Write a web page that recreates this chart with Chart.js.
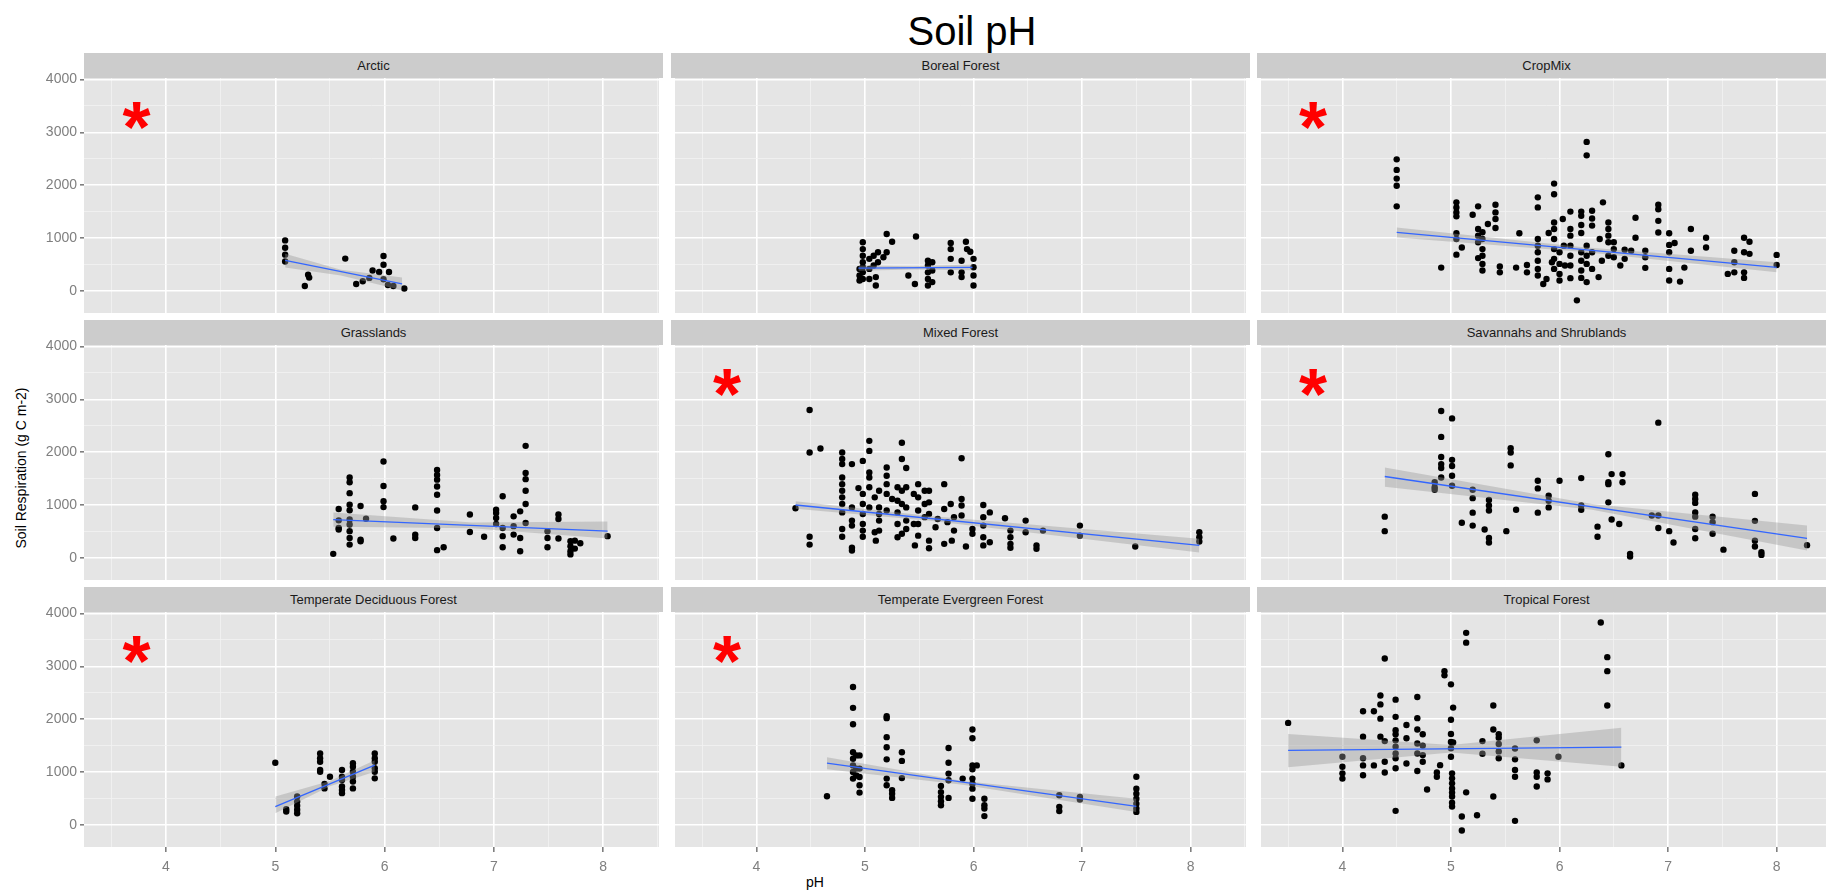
<!DOCTYPE html>
<html>
<head>
<meta charset="utf-8">
<script src="https://cdn.jsdelivr.net/npm/chart.js@4.4.0/dist/chart.umd.min.js"></script>
<style>
    body { margin: 0; width: 1826px; height: 895px; overflow: hidden; background: #fff; position: relative; font-family: "Liberation Sans", Arial, sans-serif; }
    .strip { position: absolute; background: #cccccc; color: #1a1a1a; font-size: 13px; text-align: center; line-height: 25px; height: 25px; }
    .box { position: absolute; }
    #title { position: absolute; left: 0; width: 1944px; top: 9px; text-align: center; font-size: 40px; color: #000; }
    #ylab { position: absolute; left: 21px; top: 468px; transform: translate(-50%, -50%) rotate(-90deg); font-size: 14px; white-space: nowrap; color: #000; }
    #xlab { position: absolute; left: 815px; top: 874px; transform: translateX(-50%); font-size: 14px; color: #000; }
</style>
</head>
<body>
<div id="title">Soil pH</div>
<div id="ylab">Soil Respiration (g C m-2)</div>
<div id="xlab">pH</div>
<script>
// axis ticks (major + minor gridlines)
var xTicks = [3.5, 4, 4.5, 5, 5.5, 6, 6.5, 7, 7.5, 8, 8.5];
var yTicks = [0, 500, 1000, 1500, 2000, 2500, 3000, 3500, 4000];
var xMin = 3.25, xMax = 8.51, yMin = -420, yMax = 4030;

var panelTitles = ["Arctic", "Boreal Forest", "CropMix", "Grasslands", "Mixed Forest",
    "Savannahs and Shrublands", "Temperate Deciduous Forest", "Temperate Evergreen Forest", "Tropical Forest"];
var significant = [true, false, true, false, true, true, true, true, false];

var arcticPts = [[5.09,955],[5.09,815],[5.09,685],[5.09,555],[5.27,90],[5.3,305],[5.31,250],[5.64,610],[5.74,130],
    [5.8,180],[5.86,245],[5.89,385],[5.95,355],[5.99,660],[5.99,495],[5.99,220],[6.04,355],[6.03,110],[6.08,90],[6.18,45]];
var arcticFit = [[5.09,575],[6.16,130]];
var arcticBand = [[5.09,700,440],[5.6,400,290],[6.16,250,10]];

var borealPts = [[4.98,920],[4.98,790],[4.98,665],[4.98,540],[4.98,445],[4.98,350],[4.98,225],[4.95,415],[4.95,290],[4.95,195],
    [5.04,605],[5.04,415],[5.04,225],[5.08,665],[5.08,480],[5.1,100],[5.1,260],[5.12,730],[5.12,540],[5.17,635],[5.2,730],
    [5.2,1075],[5.25,930],[5.4,290],[5.46,130],[5.47,1030],[5.58,570],[5.58,480],[5.58,350],[5.58,225],[5.58,100],[5.62,540],
    [5.62,385],[5.62,165],[5.79,905],[5.79,790],[5.79,605],[5.79,350],[5.89,570],[5.89,350],[5.89,260],[5.93,930],[5.94,790],
    [5.97,740],[6.0,605],[6.0,445],[6.0,290],[6.0,100]];
var borealFit = [[4.94,430],[5.99,445]];
var borealBand = [[4.94,480,380],[5.45,465,405],[5.99,500,390]];

var cropPts = [[4.5,2490],[4.5,2290],[4.5,2125],[4.5,1990],[4.5,1600],[4.91,440],[5.05,1675],[5.05,1580],[5.05,1485],[5.05,1410],
    [5.05,1090],[5.05,980],[5.05,685],[5.1,820],[5.2,1440],[5.25,1600],[5.25,1170],[5.25,1045],[5.25,920],[5.25,620],[5.29,1110],
    [5.29,980],[5.29,790],[5.29,665],[5.29,510],[5.29,385],[5.34,1265],[5.41,1630],[5.41,1485],[5.41,1360],[5.41,1190],[5.45,460],
    [5.45,350],[5.6,440],[5.63,1090],[5.7,490],[5.7,350],[5.8,1770],[5.8,1580],[5.8,980],[5.8,855],[5.8,730],[5.8,570],[5.8,415],
    [5.8,290],[5.85,130],[5.88,225],[5.9,1095],[5.93,540],[5.95,2030],[5.95,1830],[5.95,1295],[5.95,1170],[5.95,980],[5.95,790],
    [5.95,605],[5.95,415],[6.0,730],[6.0,510],[6.0,320],[6.0,195],[6.03,1360],[6.04,855],[6.05,480],[6.1,1500],[6.1,1170],
    [6.1,1045],[6.1,855],[6.1,665],[6.1,480],[6.1,240],[6.16,-180],[6.2,1500],[6.2,1420],[6.2,1245],[6.2,1095],[6.2,730],[6.2,570],
    [6.2,385],[6.2,245],[6.25,2820],[6.25,2565],[6.25,855],[6.25,665],[6.25,510],[6.25,165],[6.3,1515],[6.3,1370],[6.3,1235],
    [6.3,730],[6.3,415],[6.36,260],[6.37,980],[6.39,570],[6.4,1675],[6.45,1295],[6.45,1170],[6.45,1045],[6.45,920],[6.45,665],
    [6.5,920],[6.5,790],[6.5,635],[6.56,480],[6.6,780],[6.6,605],[6.66,760],[6.7,1385],[6.7,1005],[6.79,760],[6.79,635],[6.79,435],
    [6.91,1630],[6.91,1545],[6.91,1325],[6.91,1105],[7.01,1090],[7.01,870],[7.01,730],[7.01,415],[7.01,195],[7.06,905],[7.11,175],
    [7.15,440],[7.21,1170],[7.21,760],[7.35,1005],[7.35,820],[7.55,320],[7.61,760],[7.61,540],[7.61,350],[7.7,1005],[7.7,730],
    [7.7,350],[7.7,245],[7.75,930],[7.75,700],[8.0,680],[8.0,490]];
var cropFit = [[4.5,1105],[8.0,445]];
var cropBand = [[4.5,1200,1010],[6.2,830,740],[8.0,540,350]];

var grassPts = [[5.53,75],[5.58,925],[5.58,710],[5.58,565],[5.58,535],[5.68,1520],[5.68,1430],[5.68,1225],[5.68,1005],[5.68,900],
    [5.68,725],[5.68,630],[5.68,505],[5.68,375],[5.68,250],[5.78,980],[5.78,345],[5.78,315],[5.83,740],[5.99,1825],[5.99,1360],
    [5.99,1070],[5.99,960],[6.08,365],[6.28,955],[6.28,440],[6.28,375],[6.48,1665],[6.48,1570],[6.48,1480],[6.48,1350],[6.48,1195],
    [6.48,895],[6.48,565],[6.48,145],[6.54,200],[6.78,820],[6.78,490],[6.91,400],[7.02,910],[7.02,850],[7.02,755],[7.02,640],
    [7.08,1165],[7.08,565],[7.08,410],[7.08,200],[7.18,785],[7.18,600],[7.18,440],[7.24,880],[7.24,375],[7.24,125],[7.29,2120],
    [7.29,1605],[7.29,1490],[7.29,1270],[7.29,1020],[7.29,660],[7.49,505],[7.49,375],[7.49,200],[7.59,820],[7.59,735],[7.59,365],
    [7.7,315],[7.7,220],[7.7,125],[7.7,65],[7.74,325],[7.74,175],[7.79,275],[8.04,410]];
var grassFit = [[5.53,725],[8.04,505]];
var grassBand = [[5.53,860,590],[6.8,670,560],[8.04,690,365]];

var mixedPts = [[4.36,940],[4.49,2800],[4.49,1995],[4.59,2070],[4.49,400],[4.49,250],[4.79,1995],[4.79,1870],[4.79,1775],[4.79,1520],
    [4.79,1395],[4.79,1270],[4.79,1145],[4.79,1020],[4.79,860],[4.79,545],[4.79,400],[4.88,1775],[4.88,955],[4.88,705],[4.88,610],
    [4.88,190],[4.88,140],[4.94,1320],[4.98,1835],[4.98,1210],[4.98,1020],[4.98,830],[4.98,640],[4.98,515],[4.98,400],[5.04,2215],
    [5.04,2025],[5.04,1615],[5.04,1520],[5.04,1335],[5.04,955],[5.09,1145],[5.09,485],[5.1,325],[5.13,1270],[5.13,955],[5.13,830],
    [5.13,705],[5.13,515],[5.2,1710],[5.2,1555],[5.2,1395],[5.2,1210],[5.2,895],[5.25,1115],[5.3,1335],[5.3,1080],[5.3,860],
    [5.3,640],[5.3,390],[5.34,2180],[5.34,1870],[5.34,1270],[5.34,1020],[5.34,455],[5.38,1700],[5.38,1335],[5.38,955],[5.38,705],
    [5.38,545],[5.45,1210],[5.45,640],[5.46,235],[5.49,1395],[5.49,1145],[5.49,895],[5.49,640],[5.49,420],[5.55,1270],[5.55,1020],
    [5.55,770],[5.59,1270],[5.59,1050],[5.59,830],[5.59,325],[5.59,180],[5.65,580],[5.67,735],[5.73,1395],[5.73,925],[5.73,265],
    [5.76,675],[5.79,1020],[5.8,325],[5.82,770],[5.82,515],[5.89,1885],[5.89,1115],[5.89,990],[5.89,800],[5.93,215],[5.99,545],
    [5.99,455],[6.09,1000],[6.09,770],[6.09,610],[6.09,390],[6.09,235],[6.15,860],[6.15,295],[6.29,750],[6.34,515],[6.34,390],
    [6.34,265],[6.34,190],[6.48,705],[6.48,485],[6.58,235],[6.58,170],[6.64,515],[6.98,610],[6.98,420],[7.49,215],[8.08,485],
    [8.08,390],[8.08,310]];
var mixedFit = [[4.36,1000],[8.08,235]];
var mixedBand = [[4.36,1070,930],[5.6,790,700],[8.08,360,100]];

var savPts = [[4.39,780],[4.39,505],[4.85,1430],[4.85,1335],[4.85,1290],[4.91,2780],[4.91,2290],[4.91,1910],[4.91,1775],[4.91,1700],
    [4.91,1520],[5.01,2640],[5.01,1855],[5.01,1740],[5.01,1555],[5.01,1365],[5.1,665],[5.2,1290],[5.2,1130],[5.2,855],[5.2,610],
    [5.31,535],[5.35,1095],[5.35,990],[5.35,895],[5.35,375],[5.35,290],[5.51,505],[5.55,2075],[5.55,1995],[5.55,1750],[5.6,910],
    [5.8,1460],[5.8,1315],[5.8,855],[5.9,1175],[5.9,1080],[5.9,955],[6.0,1460],[6.2,1510],[6.2,990],[6.2,910],[6.35,590],[6.35,400],
    [6.45,1960],[6.45,1430],[6.45,1395],[6.45,1050],[6.48,1585],[6.48,725],[6.55,640],[6.58,1585],[6.58,1430],[6.65,75],[6.65,25],
    [6.85,800],[6.91,2560],[6.91,800],[6.91,565],[7.01,505],[7.05,290],[7.25,1195],[7.25,1115],[7.25,1040],[7.25,860],[7.25,780],
    [7.25,545],[7.25,370],[7.41,780],[7.41,675],[7.41,455],[7.51,155],[7.8,1210],[7.8,700],[7.8,325],[7.8,215],[7.86,105],[7.86,55],
    [8.28,240]];
var savFit = [[4.39,1540],[8.28,370]];
var savBand = [[4.39,1710,1345],[6.3,1020,910],[8.28,610,140]];

var decidPts = [[5.0,1175],[5.1,295],[5.1,250],[5.2,535],[5.2,440],[5.2,360],[5.2,285],[5.2,220],[5.41,1350],[5.41,1260],[5.41,1195],
    [5.41,1040],[5.41,1005],[5.45,775],[5.45,690],[5.5,910],[5.61,1040],[5.61,910],[5.61,850],[5.61,725],[5.61,660],[5.61,600],
    [5.71,1165],[5.71,1100],[5.71,1005],[5.71,910],[5.71,820],[5.71,690],[5.91,1350],[5.91,1260],[5.91,1195],[5.91,1070],
    [5.91,1005],[5.91,880]];
var decidFit = [[5.0,345],[5.91,1130]];
var decidBand = [[5.0,535,220],[5.5,830,730],[5.91,1225,1005]];

var evergPts = [[4.65,540],[4.89,2610],[4.89,2215],[4.89,1905],[4.89,1375],[4.89,1250],[4.89,1125],[4.89,1000],[4.89,875],[4.92,1315],
    [4.92,1065],[4.92,935],[4.95,1315],[4.95,1065],[4.95,905],[4.95,750],[4.95,610],[5.2,2055],[5.2,2020],[5.2,1660],[5.2,1470],
    [5.2,1240],[5.2,875],[5.2,750],[5.25,655],[5.25,590],[5.25,510],[5.34,1375],[5.34,1210],[5.34,885],[5.7,735],[5.7,620],[5.7,530],
    [5.7,445],[5.7,370],[5.77,1455],[5.77,1175],[5.77,970],[5.77,845],[5.77,510],[5.9,875],[5.99,1805],[5.99,1640],[5.99,1125],
    [5.99,1050],[5.99,875],[5.99,780],[5.99,685],[5.99,495],[6.03,1125],[6.1,495],[6.1,370],[6.1,310],[6.1,165],[6.79,560],
    [6.79,340],[6.79,260],[6.98,530],[6.98,480],[7.5,910],[7.5,685],[7.5,590],[7.5,495],[7.5,400],[7.5,310],[7.5,245]];
var evergFit = [[4.65,1170],[7.5,350]];
var evergBand = [[4.65,1280,1050],[5.9,830,760],[7.5,495,245]];

var tropPts = [[3.5,1930],[4.0,1290],[4.0,1100],[4.0,975],[4.0,875],[4.19,2150],[4.19,1670],[4.19,1260],[4.19,1125],[4.19,940],
    [4.29,2150],[4.29,1125],[4.35,2450],[4.35,2280],[4.35,2010],[4.35,1670],[4.39,3150],[4.39,1585],[4.39,1195],[4.39,990],
    [4.49,2370],[4.49,2045],[4.49,1790],[4.49,1715],[4.49,1600],[4.49,1480],[4.49,1350],[4.49,1260],[4.49,1070],[4.49,265],
    [4.59,1890],[4.59,1640],[4.59,1160],[4.69,2420],[4.69,2020],[4.69,1805],[4.69,1540],[4.69,1350],[4.69,1020],[4.74,1715],
    [4.74,1500],[4.74,1320],[4.74,1195],[4.78,670],[4.87,990],[4.87,910],[4.9,1130],[4.94,2910],[4.94,2830],[5.0,2660],[5.0,1990],
    [5.0,1720],[5.0,1570],[5.0,1450],[5.0,1290],[5.02,2220],[5.02,1560],[5.01,975],[5.01,880],[5.01,785],[5.01,690],[5.01,610],
    [5.01,535],[5.01,420],[5.01,345],[5.1,157],[5.1,-107],[5.14,3635],[5.14,3450],[5.14,615],[5.24,180],[5.29,1585],[5.29,1345],
    [5.39,2260],[5.39,1805],[5.39,535],[5.44,1715],[5.44,1650],[5.44,1530],[5.44,1390],[5.44,1260],[5.59,1445],[5.59,1240],
    [5.59,1040],[5.59,910],[5.59,75],[5.79,1600],[5.79,990],[5.79,910],[5.79,725],[5.89,975],[5.89,860],[5.99,1290],[6.38,3830],
    [6.44,3175],[6.44,2910],[6.44,2260],[6.57,1125]];
var tropFit = [[3.5,1410],[6.57,1470]];
var tropBand = [[3.5,1720,1090],[5.0,1510,1370],[6.57,1840,1100]];

var panelPts = [arcticPts, borealPts, cropPts, grassPts, mixedPts, savPts, decidPts, evergPts, tropPts];
var panelFits = [arcticFit, borealFit, cropFit, grassFit, mixedFit, savFit, decidFit, evergFit, tropFit];
var panelBands = [arcticBand, borealBand, cropBand, grassBand, mixedBand, savBand, decidBand, evergBand, tropBand];

// layout of the 3x3 facet grid
var colLeft = [84, 671, 1257];
var rowTop = [78, 345, 612];
var plotW = 579, plotH = 235;
var yAxisW = 54, xAxisH = 32, pad = 10;

function isMajorX(v) { return Math.abs(v - Math.round(v)) < 1e-6; }
function isMajorY(v) { return v % 1000 === 0; }

var panelBg = {
    id: "panelBg",
    beforeDraw: function (chart) {
        var a = chart.chartArea, ctx = chart.ctx;
        ctx.save();
        ctx.fillStyle = "#e5e5e5";
        ctx.fillRect(a.left, a.top, a.right - a.left, a.bottom - a.top);
        ctx.restore();
    }
};

var starMark = {
    id: "starMark",
    afterDraw: function (chart, args, opts) {
        if (!opts.show) return;
        var ctx = chart.ctx;
        var x = chart.scales.x.getPixelForValue(3.73);
        var y = chart.scales.y.getPixelForValue(3300);
        ctx.save();
        ctx.fillStyle = "#ff0000";
        ctx.font = "bold 72px 'Liberation Sans', Arial, sans-serif";
        ctx.textAlign = "center";
        ctx.textBaseline = "middle";
        ctx.fillText("*", x, y + 16);
        ctx.restore();
    }
};

function makePanel(i) {
    var col = i % 3, row = Math.floor(i / 3);
    var showY = col === 0, showX = row === 2;

    var strip = document.createElement("div");
    strip.className = "strip";
    strip.style.left = colLeft[col] + "px";
    strip.style.top = (rowTop[row] - 25) + "px";
    strip.style.width = plotW + "px";
    strip.textContent = panelTitles[i];
    document.body.appendChild(strip);

    var box = document.createElement("div");
    box.className = "box";
    var w = plotW + (showY ? yAxisW : 0);
    var h = plotH + pad + (showX ? xAxisH : pad);
    box.style.left = (colLeft[col] - (showY ? yAxisW : 0)) + "px";
    box.style.top = (rowTop[row] - pad) + "px";
    box.style.width = w + "px";
    box.style.height = h + "px";
    var canvas = document.createElement("canvas");
    box.appendChild(canvas);
    document.body.appendChild(box);

    var pts = panelPts[i].map(function (p) { return {x: p[0], y: p[1]}; });
    var fit = panelFits[i].map(function (p) { return {x: p[0], y: p[1]}; });
    var hi = panelBands[i].map(function (p) { return {x: p[0], y: p[1]}; });
    var lo = panelBands[i].map(function (p) { return {x: p[0], y: p[2]}; });

    new Chart(canvas, {
        type: "scatter",
        data: {
            datasets: [
                {data: pts, backgroundColor: "#000", borderWidth: 0, pointRadius: 3.2, order: 4},
                {type: "line", data: hi, borderWidth: 0, pointRadius: 0, fill: false, order: 3},
                {type: "line", data: lo, borderWidth: 0, pointRadius: 0, fill: "-1",
                    backgroundColor: "rgba(153,153,153,0.4)", order: 2},
                {type: "line", data: fit, borderColor: "#3366ff", borderWidth: 1.3, pointRadius: 0, fill: false, order: 1}
            ]
        },
        options: {
            responsive: true,
            maintainAspectRatio: false,
            animation: false,
            events: [],
            layout: {padding: {top: pad, bottom: showX ? 0 : pad, left: 0, right: 0}},
            plugins: {legend: {display: false}, tooltip: {enabled: false}, starMark: {show: significant[i]}},
            scales: {
                x: {
                    type: "linear", min: xMin, max: xMax,
                    afterBuildTicks: function (s) { s.ticks = xTicks.map(function (v) { return {value: v}; }); },
                    afterFit: function (s) { s.height = showX ? xAxisH : 0; s.paddingLeft = 0; s.paddingRight = 0; },
                    border: {display: false},
                    grid: {
                        color: function (c) { return isMajorX(c.tick.value) ? "#ffffff" : "#f2f2f2"; },
                        lineWidth: function (c) { return isMajorX(c.tick.value) ? 1.6 : 0.8; },
                        drawTicks: showX, tickLength: 5,
                        tickColor: function (c) { return isMajorX(c.tick.value) ? "#7f7f7f" : "rgba(0,0,0,0)"; }
                    },
                    ticks: {
                        display: showX, autoSkip: false, maxRotation: 0, padding: 7, color: "#7f7f7f",
                        font: {size: 14, family: "'Liberation Sans', Arial, sans-serif"},
                        callback: function (v) { return isMajorX(v) ? String(v) : ""; }
                    }
                },
                y: {
                    type: "linear", min: yMin, max: yMax,
                    afterBuildTicks: function (s) { s.ticks = yTicks.map(function (v) { return {value: v}; }); },
                    afterFit: function (s) { s.width = showY ? yAxisW : 0; s.paddingTop = 0; s.paddingBottom = 0; },
                    border: {display: false},
                    grid: {
                        color: function (c) { return isMajorY(c.tick.value) ? "#ffffff" : "#f2f2f2"; },
                        lineWidth: function (c) { return isMajorY(c.tick.value) ? 1.6 : 0.8; },
                        drawTicks: showY, tickLength: 4,
                        tickColor: function (c) { return isMajorY(c.tick.value) ? "#7f7f7f" : "rgba(0,0,0,0)"; }
                    },
                    ticks: {
                        display: showY, autoSkip: false, padding: 3, color: "#7f7f7f",
                        font: {size: 14, family: "'Liberation Sans', Arial, sans-serif"},
                        callback: function (v) { return isMajorY(v) ? String(v) : ""; }
                    }
                }
            }
        },
        plugins: [panelBg, starMark]
    });
}

for (var i = 0; i < 9; i++) {
    makePanel(i);
}
</script>
</body>
</html>
